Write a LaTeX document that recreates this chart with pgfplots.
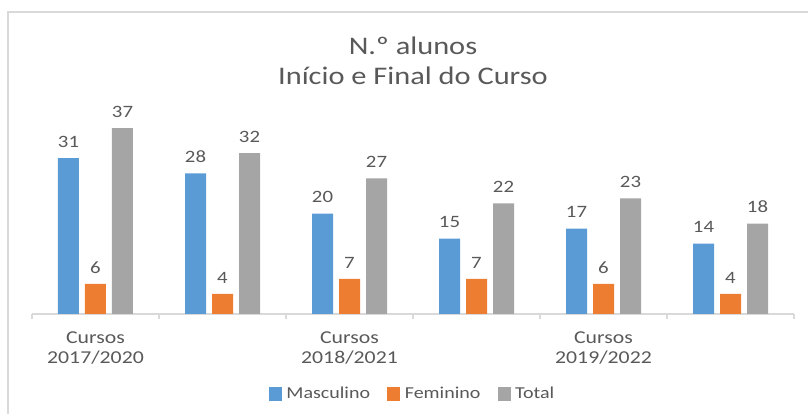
\documentclass[border=0pt]{standalone}
\usepackage{pgfplots}
\pgfplotsset{compat=1.18}
\usepackage{fontspec}
\setmainfont{Carlito}[FakeStretch=1.2]
\definecolor{cblue}{HTML}{5B9BD5}
\definecolor{corange}{HTML}{ED7D31}
\definecolor{cgray}{HTML}{A5A5A5}
\definecolor{ctext}{HTML}{595959}
\definecolor{cline}{HTML}{D9D9D9}
\begin{document}
\begin{tikzpicture}
\useasboundingbox (-24pt,-75pt) rectangle (582pt,235.5pt);
\draw[cline,line width=1.1pt] (-18pt,-80pt) -- (-18pt,226.5pt) -- (590pt,226.5pt);
\begin{axis}[
  at={(0pt,0pt)}, anchor=origin,
  scale only axis, width=571.5pt, height=150.75pt,
  xmin=0, xmax=6, ymin=0, ymax=40,
  /pgf/number format/assume math mode=true,
  axis y line=none, axis x line*=bottom,
  x axis line style={cline, line width=1pt, -},
  xtick={0,1,2,3,4,5,6}, xticklabels={},
  major tick length=3.75pt, tick align=outside,
  tick style={cline, line width=1pt},
  extra x ticks={0.5,2.5,4.5},
  extra x tick labels={{Cursos\\2017/2020},{Cursos\\2018/2021},{Cursos\\2019/2022}},
  extra x tick style={major tick length=0pt, tick label style={align=center, font=\fontsize{13.6}{15}\selectfont, text=ctext, yshift=-10pt}},
  ybar, bar width=15.75pt,
  nodes near coords,
  every node near coord/.append style={font=\fontsize{13}{15}\selectfont, text=ctext, yshift=4.5pt},
  legend columns=3,
  legend style={at={(0.5,-0.398)}, anchor=center, draw=none, font=\fontsize{12.5}{15}\selectfont, text=ctext,
    /tikz/every odd column/.append style={column sep=1.3pt},
    /tikz/every even column/.append style={column sep=11pt}},
  legend image code/.code={\fill[#1,draw=none] (0pt,-4.9pt) rectangle (9.75pt,4.9pt);},
  clip=false,
]
\addplot[fill=cblue, draw=none, bar shift=-20.25pt] coordinates {(0.5,31) (1.5,28) (2.5,20) (3.5,15) (4.5,17) (5.5,14)};
\addplot[fill=corange, draw=none, bar shift=0pt] coordinates {(0.5,6) (1.5,4) (2.5,7) (3.5,7) (4.5,6) (5.5,4)};
\addplot[fill=cgray, draw=none, bar shift=20.25pt] coordinates {(0.5,37) (1.5,32) (2.5,27) (3.5,22) (4.5,23) (5.5,18)};
\legend{Masculino,Feminino,Total}
\end{axis}
\node[align=center, text=ctext, font=\fontsize{19}{22.5}\selectfont] at (285.75pt,190pt) {N.º alunos\\Início e Final do Curso};
\end{tikzpicture}
\end{document}
